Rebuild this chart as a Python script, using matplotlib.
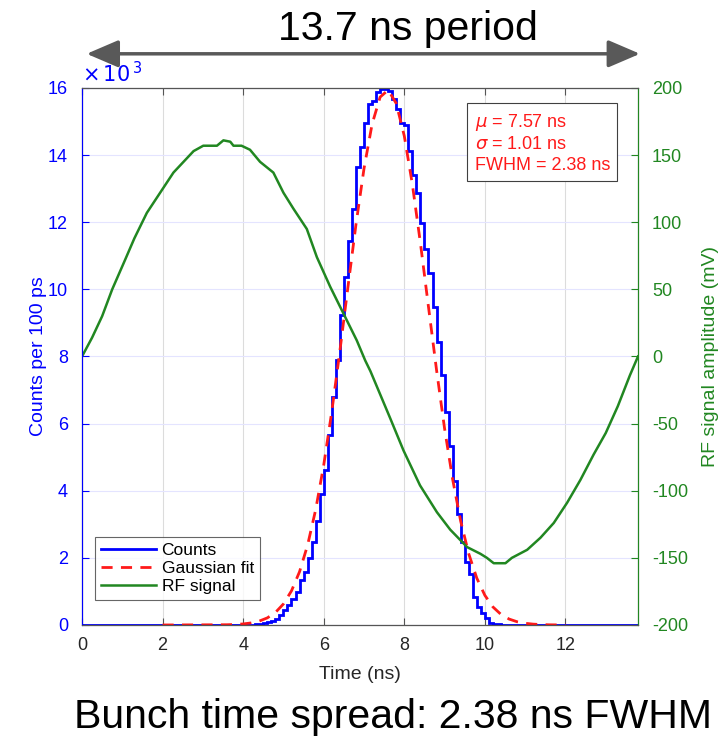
import numpy as np
import matplotlib.pyplot as plt

plt.rcParams['font.family'] = ['Liberation Sans', 'DejaVu Sans']
plt.rcParams['axes.unicode_minus'] = False

# histogram: counts per 100 ps bin (x10^3)
bin_width = 0.1
t_max = 13.8
first_bin = 4.2
counts_k = [
    0.01, 0.02, 0.03, 0.05, 0.08, 0.12, 0.17, 0.30, 0.45, 0.60,
    0.77, 0.99, 1.34, 1.59, 1.99, 2.48, 3.11, 3.90, 4.62, 5.66,
    6.80, 7.90, 9.24, 10.38, 11.45, 12.40, 13.64, 14.25, 14.97, 15.52,
    15.62, 15.87, 15.98, 15.98, 15.92, 15.67, 15.37, 14.95, 14.90, 14.12,
    13.41, 12.86, 11.97, 11.19, 10.48, 9.48, 8.44, 7.45, 6.36, 5.33,
    4.30, 3.31, 2.48, 1.89, 1.52, 0.83, 0.53, 0.37, 0.20, 0.07,
    0.04, 0.02, 0.01,
]

# gaussian fit curve (x10^3), sampled every 0.2 ns
fit_t = [2.0, 3.6, 3.8, 4.0, 4.2, 4.4, 4.6, 4.8, 5.0, 5.2, 5.4, 5.6, 5.8,
         6.0, 6.2, 6.4, 6.6, 6.8, 7.0, 7.2, 7.4, 7.6, 7.8, 8.0, 8.2, 8.4,
         8.6, 8.8, 9.0, 9.2, 9.4, 9.6, 9.8, 10.0, 10.2, 10.4, 10.6, 10.8,
         11.0, 11.2, 11.4, 11.6, 12.0]
fit_k = [0.0, 0.007, 0.015, 0.031, 0.061, 0.116, 0.211, 0.371, 0.626, 1.017,
         1.587, 2.381, 3.434, 4.765, 6.357, 8.154, 10.06, 11.93, 13.60, 14.92,
         15.73, 15.94, 15.54, 14.57, 13.13, 11.38, 9.48, 7.60, 5.85, 4.34,
         3.09, 2.12, 1.394, 0.883, 0.537, 0.314, 0.177, 0.096, 0.050, 0.025,
         0.012, 0.005, 0.0]

# RF signal (mV)
rf_t = [0.0, 0.25, 0.5, 0.75, 1.07, 1.3, 1.61, 1.94, 2.27, 2.77, 3.01, 3.35,
        3.51, 3.68, 3.76, 3.96, 4.17, 4.42, 4.75, 5.0, 5.25, 5.58, 5.83,
        6.16, 6.49, 6.82, 7.03, 7.16, 7.65, 7.98, 8.39, 8.81, 9.14, 9.56,
        9.89, 10.05, 10.22, 10.51, 10.67, 11.05, 11.38, 11.71, 12.04, 12.37,
        12.7, 13.0, 13.3, 13.6, 13.8]
rf_mv = [0, 14, 30, 50, 72, 88, 107, 122, 137, 153, 157, 157,
         161, 160, 157, 157, 154, 145, 137, 122, 110, 95, 74,
         52, 32, 12, -3, -11, -46, -70, -96, -116, -129, -142,
         -147, -150, -154, -154, -150, -144, -135, -124, -109, -92,
         -73, -57, -37, -14, 0]

stats_text = "$\\mu$ = 7.57 ns\n$\\sigma$ = 1.01 ns\nFWHM = 2.38 ns"

# full histogram on 100 ps bins
edges = np.round(np.arange(0, t_max + bin_width / 2, bin_width), 2)
hist = np.zeros(len(edges) - 1)
i0 = int(round(first_bin / bin_width))
hist[i0:i0 + len(counts_k)] = counts_k

blue = (0, 0, 1)
green = (0.13, 0.53, 0.13)
red = (1, 0.1, 0.1)

fig = plt.figure(figsize=(7.23, 7.37), dpi=100)
ax = fig.add_axes([0.1134, 0.152, 0.7690, 0.7286])
ax2 = ax.twinx()

h_counts = ax.stairs(hist, edges, color=blue, lw=2, label="Counts")
h_fit, = ax.plot(fit_t, fit_k, color=red, lw=2, ls=(0, (4, 3)),
                 label="Gaussian fit")
h_rf, = ax2.plot(rf_t, rf_mv, color=green, lw=1.8, label="RF signal")

ax.set_xlim(0, t_max)
ax.set_ylim(0, 16)
ax2.set_ylim(-200, 200)
ax.set_xticks(np.arange(0, 13, 2))
ax.set_yticks(np.arange(0, 17, 2))
ax2.set_yticks(np.arange(-200, 201, 50))

ax.xaxis.grid(True, color="#dcdcdc", lw=0.8)
ax.yaxis.grid(True, color="#e4e4ff", lw=0.8)
ax.set_axisbelow(True)

ax.tick_params(axis="x", direction="in", top=True, length=5, colors="#555555",
               labelcolor="#262626", labelsize=13, pad=9)
ax.tick_params(axis="y", direction="in", length=5, colors=blue, labelsize=13,
               pad=10)
ax2.tick_params(axis="y", direction="in", length=5, colors=green, labelsize=13,
                pad=10)
for s in ("top", "bottom"):
    ax2.spines[s].set_color("#555555")
ax2.spines["left"].set_color(blue)
ax2.spines["right"].set_color(green)

ax.set_xlabel("Time (ns)", fontsize=14, color="#262626", labelpad=8)
ax.set_ylabel("Counts per 100 ps", fontsize=14, color=blue, labelpad=1)
ax2.set_ylabel("RF signal amplitude (mV)", fontsize=14, color=green,
               labelpad=10)
ax.text(0.0, 1.003, "$\\times\\,10^{\\,3}$", transform=ax.transAxes,
        color=blue, fontsize=15, va="bottom", ha="left")

leg = ax2.legend([h_counts, h_fit, h_rf], ["Counts", "Gaussian fit", "RF signal"],
                 loc="lower left", bbox_to_anchor=(0.023, 0.047),
                 borderaxespad=0, fontsize=12.5, frameon=True, fancybox=False,
                 handlelength=3.2, handletextpad=0.3, borderpad=0.35,
                 labelspacing=0.15)
leg.get_frame().set_edgecolor("#404040")
leg.get_frame().set_linewidth(0.8)

ax2.text(0.706, 0.955, stats_text, transform=ax.transAxes, color=red,
         fontsize=13, va="top", ha="left", linespacing=1.25,
         bbox=dict(facecolor="white", edgecolor="#404040", lw=0.8,
                   boxstyle="square,pad=0.4"))

fig.text(0.564, 0.96, "13.7 ns period", ha="center", va="center",
         fontsize=29.5)
fig.text(0.544, 0.027, "Bunch time spread: 2.38 ns FWHM", ha="center",
         va="center", fontsize=29.5)
fig.patches.append(plt.matplotlib.patches.FancyArrowPatch(
    (0.116, 0.927), (0.889, 0.927), transform=fig.transFigure,
    arrowstyle="<|-|>,head_length=1.4,head_width=0.6", mutation_scale=14,
    color="#595959", lw=2.5))

fig.savefig("out.png", dpi=100)
